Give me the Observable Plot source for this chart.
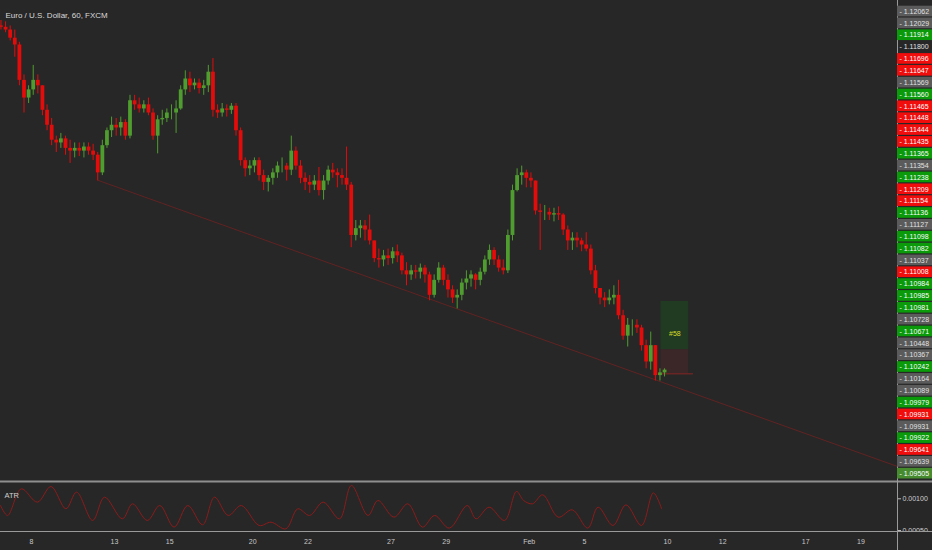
<!DOCTYPE html>
<html><head><meta charset="utf-8">
<script src="https://cdn.jsdelivr.net/npm/d3@7"></script>
<script src="https://cdn.jsdelivr.net/npm/@observablehq/plot@0.6"></script>
<style>
html,body{margin:0;padding:0;background:#272727;}
#chart{position:relative;width:932px;height:550px;background:#272727;overflow:hidden;}
#chart svg{position:absolute;}
</style></head><body><div id="chart"></div>
<script>
// ---------- DATA ----------
const title = "Euro / U.S. Dollar, 60, FXCM";
// x is measured in trading days, day 0 = Jan 8 (weekends removed, as on the chart)
const dayTicks  = [0, 3, 5, 8, 10, 13, 15, 18, 20, 23, 25, 28, 30];
const dayLabels = ["8", "13", "15", "20", "22", "27", "29", "Feb", "5", "10", "12", "17", "19"];
const xDomain = [-1.121, 31.32];

// 4-hour aggregated bars, prices x 10000; first bar opens 28 h before Jan 8 00:00
const firstBarDay = -7 / 6;
const barHours = 4;
const firstOpen = 11201;
const high = [11205,11204,11201,11198,11189,11165,11157,11172,11165,11157,
11143,11133,11120,11122,11120,11117,11115,11115,11115,11115,
11114,11108,11117,11126,11134,11133,11134,11132,11150,11150,
11148,11146,11148,11140,11135,11139,11140,11143,11146,11157,
11168,11167,11162,11162,11161,11172,11177,11143,11144,11143,
11144,11144,11126,11104,11102,11104,11104,11095,11091,11096,
11101,11104,11100,11120,11112,11102,11093,11091,11091,11097,
11091,11098,11100,11096,11096,11112,11086,11058,11058,11058,
11062,11043,11037,11036,11037,11038,11040,11034,11027,11025,
11025,11026,11025,11020,11018,11027,11025,11018,11010,11007,
11015,11021,11021,11019,11023,11032,11040,11038,11032,11029,
11051,11084,11096,11098,11095,11093,11087,11070,11069,11067,
11067,11068,11063,11054,11049,11049,11045,11049,11040,11025,
11008,11005,11007,11010,11014,10992,10986,10985,10985,10981,
10970,10976,10966,10949,10949];
const low = [11198,11196,11190,11178,11157,11137,11144,11150,11151,11135,
11124,11113,11108,11111,11106,11100,11104,11105,11104,11106,
11102,11087,11091,11111,11119,11120,11120,11117,11118,11139,
11137,11137,11135,11117,11107,11128,11130,11132,11122,11139,
11150,11152,11154,11151,11150,11152,11134,11133,11134,11134,
11136,11120,11098,11090,11091,11093,11087,11080,11079,11084,
11089,11093,11087,11091,11095,11085,11080,11078,11080,11076,
11073,11084,11089,11082,11084,11080,11038,11043,11045,11043,
11040,11027,11023,11024,11025,11026,11027,11018,11010,11014,
11015,11015,11012,10999,11001,11012,11010,11001,10997,10993,
10999,11007,11009,11007,11010,11018,11025,11025,11020,11018,
11019,11043,11079,11084,11082,11082,11062,11036,11058,11058,
11057,11058,11047,11036,11036,11038,11035,11035,11018,11004,
10996,10994,10996,10996,10985,10970,10965,10973,10975,10962,
10949,10948,10940,10940,10943];
const close = [11200,11198,11192,11187,11161,11148,11154,11161,11157,11139,
11128,11117,11115,11118,11111,11109,11111,11109,11112,11109,
11106,11093,11113,11124,11128,11126,11130,11120,11146,11143,
11140,11143,11137,11120,11132,11133,11137,11137,11140,11154,
11162,11157,11159,11155,11157,11167,11139,11137,11140,11139,
11142,11124,11102,11096,11098,11102,11091,11086,11089,11093,
11098,11098,11095,11109,11098,11089,11086,11084,11087,11080,
11087,11095,11093,11091,11089,11084,11047,11052,11054,11051,
11043,11030,11029,11032,11030,11035,11032,11021,11018,11021,
11020,11023,11018,11003,11014,11023,11014,11007,11001,11003,
11012,11015,11018,11014,11020,11029,11036,11029,11023,11021,
11047,11080,11091,11093,11089,11087,11065,11064,11064,11062,
11063,11062,11051,11043,11045,11043,11040,11037,11021,11008,
11001,10999,11001,11003,10988,10973,10981,10981,10979,10966,
10954,10966,10944,10946,10948];

// trend line anchors (day, price)
const trendDay = [2.423, 31.32];
const trendPrice = [1.10874, 1.08772];

// long-position tool
const posStartDay = 22.77, posEndDay = 23.77, posLineEndDay = 23.94;
const posTarget = 1.09985, posEntry = 1.09630, posStop = 1.09453;
const posText = "#58", posTextPrice = 1.09749, posTextDay = 23.27;

// right price-scale labels (top to bottom)
const priceLabels = ["1.12062","1.12029","1.11914","1.11800","1.11696","1.11647","1.11569","1.11560",
"1.11465","1.11448","1.11444","1.11435","1.11365","1.11354","1.11238","1.11209","1.11154","1.11136",
"1.11127","1.11098","1.11082","1.11037","1.11008","1.10984","1.10985","1.10981","1.10728","1.10671",
"1.10448","1.10367","1.10242","1.10164","1.10089","1.09979","1.09931","1.09931","1.09922","1.09641",
"1.09639","1.09505"];
const priceLabelKinds = ["gray","gray","green","axis","red","red","gray","green",
"red","red","red","red","green","gray","green","red","red","green",
"gray","green","green","gray","red","green","green","green","gray","green",
"gray","gray","green","gray","gray","green","red","gray","green","red",
"gray","olive"];

// ATR panel
const atrDay = [-1.121,-0.864,-0.369,0.213,0.706,1.244,1.631,2.212,2.641,3.287,3.653,4.189,4.641,5.157,5.652,6.189,6.619,7.114,7.588,8.232,8.662,9.2,9.631,10.06,10.55,11.14,11.57,12.17,12.53,13.11,13.61,14.14,14.58,15.11,15.76,16.08,16.55,17.11,17.54,17.8,18.12,18.49,19.05,19.56,20.12,20.49,21.03,21.5,22.06,22.49,22.79];
const atrValue = [0.000894,0.000737,0.001157,0.000947,0.001194,0.000842,0.001105,0.000658,0.001026,0.000684,0.000921,0.000658,0.000894,0.000553,0.000894,0.000590,0.001026,0.000737,0.000894,0.000579,0.000631,0.000526,0.000842,0.000737,0.000947,0.000684,0.00121,0.000737,0.000973,0.000710,0.000921,0.000553,0.000737,0.000537,0.000894,0.000684,0.000868,0.000658,0.001115,0.000973,0.000921,0.001063,0.000710,0.000826,0.000537,0.000868,0.000579,0.000905,0.000579,0.001094,0.000842];
const atrTicks = [0.0005, 0.001];

// ---------- STYLE ----------
const BG = "#272727", UP = "#4f9d2f", DOWN = "#e40b0b";
const kindFill = {gray: "#5b5b5b", green: "#0a9a0a", red: "#f20d0d", olive: "#468c2e"};
const FONT = "'Liberation Sans', Arial, sans-serif";
const baseStyle = {background: "transparent", fontFamily: FONT, fontSize: "7px", color: "#cfcfcf", overflow: "visible"};

// ---------- BUILD ----------
const bars = close.map((c, i) => {
  const o = i ? close[i - 1] : firstOpen;
  return {x: firstBarDay + (i * barHours + 1.5) / 24,
          o: o / 1e4, c: c / 1e4,
          h: Math.max(high[i], o, c) / 1e4, l: Math.min(low[i], o, c) / 1e4};
});
const up = bars.filter(d => d.c >= d.o), down = bars.filter(d => d.c < d.o);
const trend = trendDay.map((d, i) => ({d, p: trendPrice[i]}));
const atr = atrDay.map((d, i) => ({d, v: atrValue[i]}));
const labelRows = priceLabels.map((v, k) => ({k, v, kind: priceLabelKinds[k]}));
const xRight = xDomain[1] + 35 / 27.65;

const main = Plot.plot({
  width: 932, height: 480, marginLeft: 0, marginRight: 35, marginTop: 0, marginBottom: 0,
  x: {domain: xDomain, axis: null},
  y: {domain: [1.08669, 1.12197], axis: null},
  style: baseStyle,
  marks: [
    Plot.line(trend, {x: "d", y: "p", stroke: "#622222", strokeWidth: 1, clip: true}),
    Plot.rect([0], {x1: posStartDay, x2: posEndDay, y1: posEntry, y2: posTarget, fill: "#203b22"}),
    Plot.rect([0], {x1: posStartDay, x2: posEndDay, y1: posStop, y2: posEntry, fill: "#3b2628"}),
    Plot.ruleY([posStop], {x1: posStartDay, x2: posLineEndDay, stroke: "#8a2525", strokeWidth: 1}),
    Plot.text([posText], {x: posTextDay, y: posTextPrice, fill: "#d9d92a", fontSize: 7}),
    Plot.ruleX(up, {x: "x", y1: "l", y2: "h", stroke: UP, strokeWidth: 1, clip: true}),
    Plot.ruleX(down, {x: "x", y1: "l", y2: "h", stroke: DOWN, strokeWidth: 1, clip: true}),
    Plot.ruleX(up, {x: "x", y1: "o", y2: "c", stroke: UP, strokeWidth: 3.8, clip: true}),
    Plot.ruleX(down, {x: "x", y1: "o", y2: "c", stroke: DOWN, strokeWidth: 3.8, clip: true}),
    Plot.ruleX([xDomain[1]], {stroke: "#9a9a9a", strokeWidth: 1}),
    Plot.text([title], {frameAnchor: "top-left", dx: 5, dy: 11.5, textAnchor: "start", fill: "#d9d9d9", fontSize: 8})
  ]
});

const labels = Plot.plot({
  width: 35, height: 480, marginLeft: 0, marginRight: 0, marginTop: 5.1, marginBottom: 0.9,
  x: {axis: null},
  y: {type: "band", domain: d3.range(priceLabels.length), padding: 0, axis: null},
  color: {type: "identity"},
  style: baseStyle,
  marks: [
    Plot.cell(labelRows.filter(d => d.kind !== "axis"), {y: "k", fill: d => kindFill[d.kind], insetTop: 0.6, insetBottom: 0.6}),
    Plot.text(labelRows, {y: "k", text: d => "- " + d.v, frameAnchor: "left", textAnchor: "start", dx: 2,
      fill: d => d.kind === "gray" || d.kind === "axis" ? "#e2e2e2" : "#ffffff", fontSize: 7})
  ]
});

const atrPlot = Plot.plot({
  width: 932, height: 70, marginLeft: 0, marginRight: 35, marginTop: 2, marginBottom: 19,
  x: {domain: xDomain, axis: null},
  y: {domain: [0.000484, 0.001257], axis: null},
  style: baseStyle,
  marks: [
    Plot.line(atr, {x: "d", y: "v", stroke: "#8c1b1b", strokeWidth: 1, curve: "catmull-rom", clip: true}),
    Plot.axisY({anchor: "right", label: null, ticks: atrTicks, tickFormat: d3.format(".5f"), tickSize: 3, tickPadding: 2, fontSize: 7, stroke: "#bbb", fill: "#cfcfcf"}),
    Plot.rect([0], {x1: -2, x2: xRight + 1, y1: 0.00005, y2: 0.000484, fill: BG}),
    Plot.ruleY([0.001273], {x1: -2, x2: xRight + 1, stroke: "#8f8f8f", strokeWidth: 2}),
    Plot.ruleY([0.000484], {x1: -2, x2: xRight + 1, stroke: "#9a9a9a", strokeWidth: 1}),
    Plot.ruleX([xDomain[1]], {y1: 0.0014, y2: 0.00005, stroke: "#9a9a9a", strokeWidth: 1}),
    Plot.axisX({label: null, ticks: dayTicks, tickFormat: d => dayLabels[dayTicks.indexOf(d)], tickSize: 0, tickPadding: 8, fontSize: 7, fill: "#c8c8c8"}),
    Plot.text(["ATR"], {frameAnchor: "top-left", dx: 4, dy: 10.5, textAnchor: "start", fill: "#d0d0d0", fontSize: 7.5})
  ]
});

const root = document.getElementById("chart");
function place(svg, left, top) { svg.style.left = left + "px"; svg.style.top = top + "px"; root.appendChild(svg); }
place(main, 0, 0);
place(atrPlot, 0, 480);
place(labels, 897, 0);
</script></body></html>
